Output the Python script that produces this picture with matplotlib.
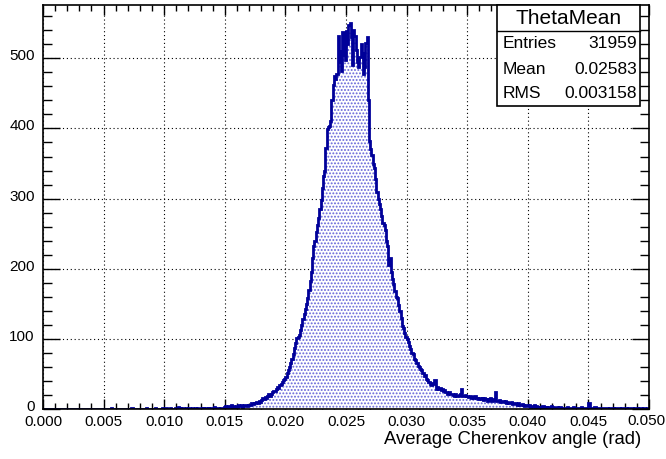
import numpy as np
import matplotlib.pyplot as plt
import matplotlib.transforms as mtransforms
from matplotlib.patches import Rectangle
from matplotlib.ticker import MultipleLocator

plt.rcParams['font.family'] = ['Liberation Sans', 'DejaVu Sans']
plt.rcParams['hatch.linewidth'] = 0.9

# histogram "ThetaMean": 500 bins from 0 to 0.05 rad, counts
x_min, x_max, n_bins = 0.0, 0.05, 500
counts = [
    0, 0, 0, 0, 0, 0, 0, 0, 0, 0,
    0, 0, 0, 0, 0, 0, 0, 0, 0, 0,
    0, 0, 0, 0, 0, 0, 0, 0, 0, 0,
    0, 0, 0, 0, 0, 0, 0, 0, 0, 0,
    0, 0, 0, 0, 0, 0, 0, 0, 0, 0,
    0, 0, 0, 0, 0, 0, 1, 0, 0, 0,
    0, 0, 0, 0, 0, 0, 0, 0, 0, 0,
    0, 0, 0, 1, 0, 0, 0, 0, 0, 0,
    0, 0, 0, 0, 0, 1, 0, 0, 0, 0,
    0, 0, 1, 0, 0, 0, 0, 0, 1, 0,
    0, 1, 0, 0, 0, 1, 0, 0, 0, 1,
    0, 3, 2, 1, 0, 1, 0, 0, 1, 0,
    1, 0, 0, 1, 0, 2, 0, 1, 0, 0,
    1, 0, 1, 0, 2, 0, 1, 0, 1, 2,
    1, 3, 2, 1, 1, 0, 2, 1, 2, 3,
    4, 3, 2, 4, 3, 5, 3, 4, 2, 4,
    3, 5, 4, 6, 3, 4, 5, 6, 4, 5,
    6, 5, 8, 7, 9, 8, 10, 9, 11, 10,
    13, 15, 14, 17, 16, 19, 21, 18, 22, 24,
    26, 25, 29, 31, 30, 34, 36, 39, 41, 43,
    46, 52, 55, 60, 66, 72, 79, 87, 94, 101,
    103, 106, 112, 120, 128, 136, 142, 150, 158, 170,
    182, 195, 215, 232, 240, 252, 262, 272, 285, 298,
    315, 332, 340, 372, 399, 402, 403, 410, 440, 462,
    475, 470, 477, 532, 495, 510, 482, 537, 505, 498,
    539, 520, 548, 551, 530, 491, 540, 532, 512, 495,
    487, 502, 520, 508, 478, 487, 522, 530, 440, 382,
    370, 362, 350, 343, 328, 310, 300, 292, 285, 275,
    265, 262, 255, 240, 232, 205, 215, 195, 185, 178,
    168, 160, 158, 148, 140, 130, 118, 115, 108, 103,
    100, 95, 90, 86, 80, 78, 72, 70, 66, 62,
    60, 57, 55, 52, 47, 49, 43, 41, 38, 36,
    34, 37, 35, 42, 29, 31, 28, 30, 27, 29,
    26, 27, 24, 22, 23, 24, 21, 22, 20, 19,
    21, 18, 19, 20, 22, 29, 19, 18, 20, 19,
    18, 17, 19, 16, 17, 15, 18, 16, 15, 14,
    15, 14, 16, 13, 15, 14, 12, 14, 13, 15,
    12, 14, 13, 24, 12, 11, 13, 10, 12, 11,
    10, 11, 9, 10, 8, 9, 10, 7, 8, 9,
    7, 6, 8, 5, 6, 7, 5, 4, 6, 5,
    4, 5, 3, 4, 3, 5, 2, 4, 3, 2,
    3, 2, 4, 3, 2, 3, 1, 3, 2, 4,
    2, 3, 2, 1, 3, 2, 3, 2, 1, 2,
    2, 1, 3, 2, 2, 1, 2, 3, 1, 2,
    1, 2, 2, 1, 3, 1, 2, 1, 2, 1,
    8, 2, 1, 2, 1, 3, 1, 2, 1, 2,
    1, 2, 1, 1, 2, 1, 0, 2, 1, 1,
    1, 0, 1, 2, 1, 1, 0, 1, 2, 1,
    2, 1, 0, 1, 1, 2, 1, 0, 1, 1,
    1, 0, 1, 1, 0, 2, 1, 0, 1, 0,
]
hist_name = "ThetaMean"
stats_labels = ["Entries", "Mean", "RMS"]
stats_values = ["31959", "0.02583", "0.003158"]
x_title = "Average Cherenkov angle (rad)"

W, H = 666, 459
line_col = '#000099'


def fx(px):
    return px / W


def fy(py):
    return 1 - py / H


fig = plt.figure(figsize=(W / 100, H / 100), dpi=100)
ax = fig.add_axes([fx(43), fy(409), fx(649) - fx(43), fy(5) - fy(409)])

edges = np.linspace(x_min, x_max, n_bins + 1)
counts = np.array(counts)
ax.stairs(counts, edges, fill=True, facecolor='white', edgecolor='#6464d8',
          hatch='.....', linewidth=0)
ax.stairs(counts, edges, color=line_col, linewidth=2)

ax.set_xlim(x_min, x_max)
ax.set_ylim(0, 576)
ax.xaxis.set_major_locator(MultipleLocator(0.005))
ax.xaxis.set_minor_locator(MultipleLocator(0.001))
ax.yaxis.set_major_locator(MultipleLocator(100))
ax.yaxis.set_minor_locator(MultipleLocator(20))
# the last label (at the right edge) is drawn separately below
ax.xaxis.set_major_formatter(lambda v, p: "" if v > x_max - 1e-6 else f"{v:.3f}")
ax.grid(True, which='major', linestyle=(0, (1, 2.5)), color='black', linewidth=0.8)
ax.set_axisbelow(True)

ax.tick_params(axis='both', which='both', direction='in', top=True, right=True,
               labelsize=11, width=1)
ax.tick_params(axis='x', which='major', length=7.5, pad=4)
ax.tick_params(axis='x', which='minor', length=4)
ax.tick_params(axis='y', which='major', length=12, pad=6)
ax.tick_params(axis='y', which='minor', length=6.5)
for sp in ax.spines.values():
    sp.set_linewidth(1.2)

up = mtransforms.ScaledTranslation(0, 2.5 / 72, fig.dpi_scale_trans)
for lab in ax.get_yticklabels():
    lab.set_transform(lab.get_transform() + up)

fig.text(fx(666), fy(421), f"{x_max:.3f}", ha='right', va='center', fontsize=11)

fig.text(fx(641), fy(440), x_title, ha='right', va='center', fontsize=13.3)

# stats box
bx0, by0, bx1, by1 = 497, 5, 640, 106
fig.patches.append(Rectangle((fx(bx0), fy(by1)), fx(bx1) - fx(bx0), fy(by0) - fy(by1),
                             transform=fig.transFigure, facecolor='white',
                             edgecolor='black', linewidth=1.2, zorder=5))
fig.lines.append(plt.Line2D([fx(bx0), fx(bx1)], [fy(31), fy(31)],
                            transform=fig.transFigure, color='black', linewidth=1, zorder=6))
fig.text(fx((bx0 + bx1) / 2), fy(18), hist_name, ha='center', va='center',
         fontsize=15, zorder=7)
for k, (lab, val) in enumerate(zip(stats_labels, stats_values)):
    yy = 44 + 25 * k
    fig.text(fx(503), fy(yy), lab, ha='left', va='center', fontsize=12.5, zorder=7)
    fig.text(fx(637), fy(yy), val, ha='right', va='center', fontsize=12.5, zorder=7)

fig.savefig('out.png', dpi=100)
